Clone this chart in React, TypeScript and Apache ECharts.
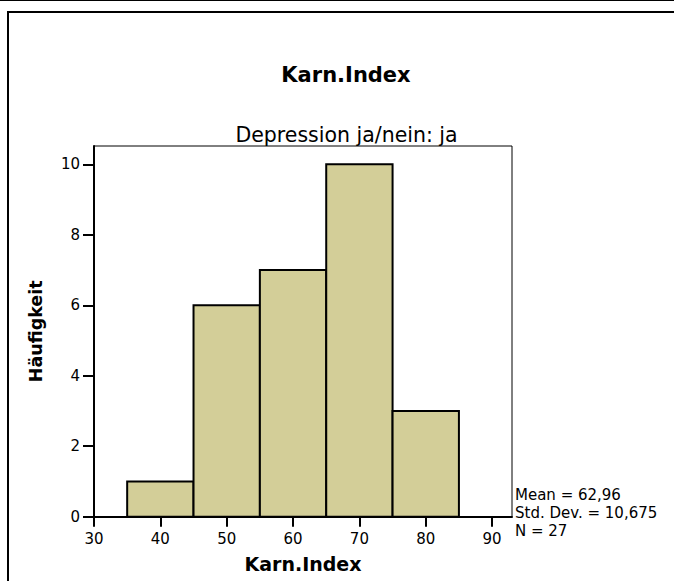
import React, { useEffect, useRef } from "react";
import * as echarts from "echarts";

const chartTitle = "Karn.Index";
const panelTitle = "Depression ja/nein: ja";
const xAxisTitle = "Karn.Index";
const yAxisTitle = "Häufigkeit";

const binStarts = [35, 45, 55, 65, 75];
const binEnds = [45, 55, 65, 75, 85];
const counts = [1, 6, 7, 10, 3];

const xTicks = [30, 40, 50, 60, 70, 80, 90];
const yTicks = [0, 2, 4, 6, 8, 10];
const xMin = 30;
const xMax = 93;
const yMin = 0;
const yMax = 10.52;

const statLines = ["Mean = 62,96", "Std. Dev. = 10,675", "N = 27"];

const FONT = "'DejaVu Sans', 'Liberation Sans', Arial, sans-serif";
const BAR_FILL = "#D3CE98";

export default function App() {
  const ref = useRef<HTMLDivElement>(null);

  useEffect(() => {
    document.body.style.margin = "0";
    document.body.style.overflow = "hidden";
    if (!ref.current) return;
    const chart = echarts.init(ref.current, undefined, { renderer: "svg" });
    const data = binStarts.map((s, i) => [s, binEnds[i], counts[i]]);

    chart.setOption({
      animation: false,
      backgroundColor: "#ffffff",
      grid: {
        left: 94,
        right: 162,
        top: 146,
        bottom: 64.3,
        show: true,
        borderColor: "#000000",
        borderWidth: 1,
        backgroundColor: "transparent",
      },
      xAxis: {
        type: "value",
        min: xMin,
        max: xMax,
        interval: 10,
        name: xAxisTitle,
        nameLocation: "middle",
        nameGap: 38,
        nameTextStyle: {
          fontFamily: FONT,
          fontWeight: "bold",
          fontSize: 19,
          color: "#000000",
        },
        splitLine: { show: false },
        axisLine: { show: true, onZero: false, lineStyle: { color: "#000000", width: 2 } },
        axisTick: {
          show: true,
          length: 10,
          customValues: xTicks,
          lineStyle: { color: "#000000", width: 2 },
        },
        axisLabel: {
          customValues: xTicks,
          margin: 15,
          fontFamily: FONT,
          fontSize: 15,
          color: "#000000",
        },
      },
      yAxis: {
        type: "value",
        min: yMin,
        max: yMax,
        interval: 2,
        name: yAxisTitle,
        nameLocation: "middle",
        nameRotate: 90,
        nameGap: 49,
        nameTextStyle: {
          fontFamily: FONT,
          fontWeight: "bold",
          fontSize: 17.5,
          color: "#000000",
        },
        splitLine: { show: false },
        axisLine: { show: true, onZero: false, lineStyle: { color: "#000000", width: 2 } },
        axisTick: {
          show: true,
          length: 11,
          customValues: yTicks,
          lineStyle: { color: "#000000", width: 2 },
        },
        axisLabel: {
          customValues: yTicks,
          margin: 14,
          fontFamily: FONT,
          fontSize: 15,
          color: "#000000",
        },
      },
      series: [
        {
          type: "custom",
          data,
          encode: { x: [0, 1], y: 2 },
          renderItem: (params: any, api: any) => {
            const start = api.value(0);
            const end = api.value(1);
            const count = api.value(2);
            const p0 = api.coord([start, count]);
            const p1 = api.coord([end, 0]);
            return {
              type: "rect",
              shape: {
                x: p0[0],
                y: p0[1],
                width: p1[0] - p0[0],
                height: p1[1] - p0[1],
              },
              style: { fill: BAR_FILL, stroke: "#000000", lineWidth: 2 },
            };
          },
        },
      ],
      graphic: [
        {
          type: "line",
          shape: { x1: 0, y1: 0.5, x2: 674, y2: 0.5 },
          style: { stroke: "#000000", lineWidth: 1 },
          silent: true,
        },
        {
          type: "polyline",
          shape: {
            points: [
              [8, 581],
              [8, 12],
              [674, 12],
            ],
          },
          style: { fill: "none", stroke: "#000000", lineWidth: 2 },
          silent: true,
        },
        {
          type: "text",
          x: 346,
          y: 74.5,
          style: {
            text: chartTitle,
            fontFamily: FONT,
            fontWeight: "bold",
            fontSize: 21,
            fill: "#000000",
            align: "center",
            verticalAlign: "middle",
          },
        },
        {
          type: "text",
          x: 346.5,
          y: 135,
          style: {
            text: panelTitle,
            fontFamily: FONT,
            fontSize: 20.5,
            fill: "#000000",
            align: "center",
            verticalAlign: "middle",
          },
        },
        {
          type: "text",
          x: 515,
          y: 485.5,
          style: {
            text: statLines.join("\n"),
            fontFamily: FONT,
            fontSize: 15,
            lineHeight: 18.3,
            fill: "#000000",
            align: "left",
            verticalAlign: "top",
          },
        },
      ],
    });

    return () => {
      chart.dispose();
    };
  }, []);

  return (
    <div
      ref={ref}
      style={{ position: "absolute", left: 0, top: 0, width: 674, height: 581 }}
    />
  );
}
